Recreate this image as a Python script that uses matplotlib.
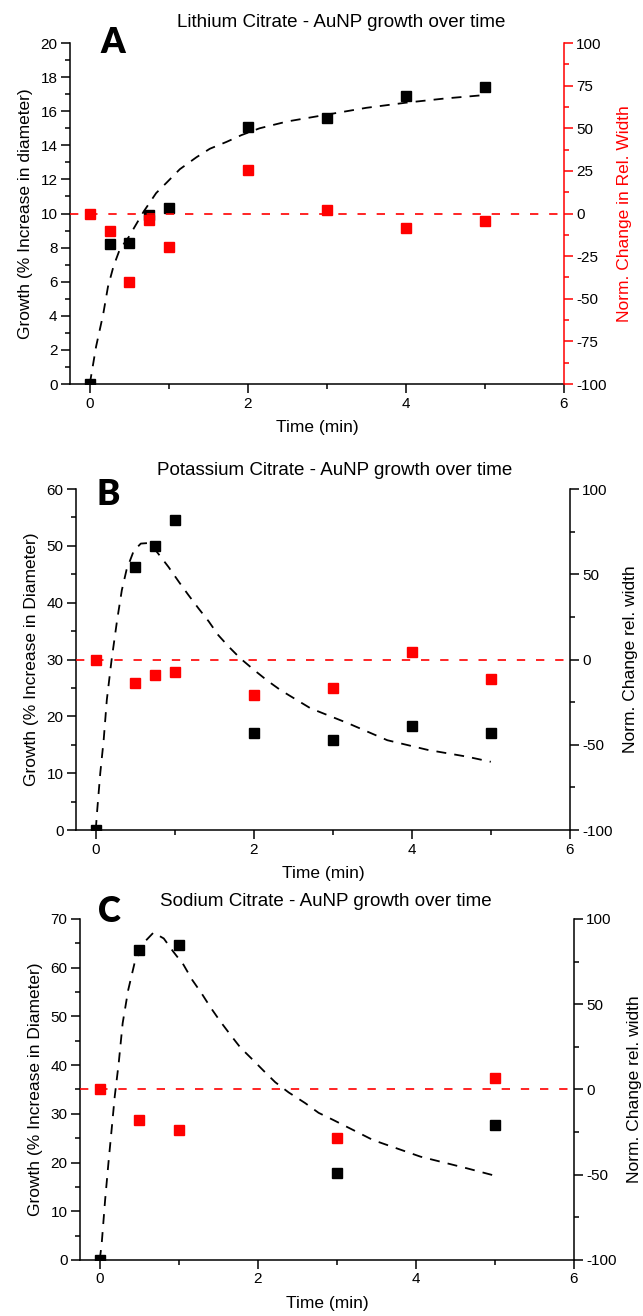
import matplotlib.pyplot as plt
from matplotlib.ticker import MultipleLocator

plt.rcParams['font.family'] = ['Liberation Sans', 'DejaVu Sans']
plt.rcParams['axes.unicode_minus'] = False

RED = '#ff0000'

# Panel A - lithium citrate
time_a = [0, 0.25, 0.5, 0.75, 1, 2, 3, 4, 5]
growth_a = [0, 8.2, 8.3, 9.9, 10.3, 15.1, 15.6, 16.9, 17.4]
width_a = [0, -10, -40, -4, -19.5, 25.7, 2, -8.3, -4.3]
fit_a_x = [0, 0.08, 0.17, 0.23, 0.3, 0.38, 0.49, 0.68, 0.84, 0.97, 1.14, 1.35,
           1.52, 1.73, 1.92, 2.15, 2.5, 3.0, 3.5, 4.0, 4.5, 5.0]
fit_a_y = [0, 2.2, 4.1, 5.7, 6.9, 7.9, 8.6, 10.1, 11.2, 11.8, 12.6, 13.3,
           13.8, 14.2, 14.6, 15.0, 15.4, 15.8, 16.2, 16.5, 16.75, 16.95]

# Panel B - potassium citrate
time_b = [0, 0.5, 0.75, 1, 2, 3, 4, 5]
growth_b = [0, 46.3, 50.0, 54.6, 17.1, 15.8, 18.3, 17.0]
width_b = [0, -13.8, -8.9, -7.5, -20.8, -16.9, 4.2, -11.6]
fit_b_x = [0, 0.015, 0.057, 0.1, 0.14, 0.2, 0.27, 0.33, 0.39, 0.48, 0.57, 0.67,
           0.77, 0.92, 1.05, 1.17, 1.30, 1.43, 1.55, 1.68, 1.83, 2.0, 2.17,
           2.34, 2.72, 3.19, 3.69, 4.2, 4.7, 5.0]
fit_b_y = [0, 2.9, 10.0, 15.8, 22.9, 29.9, 36.9, 42.2, 45.8, 49.1, 50.4, 50.5,
           49.0, 46.3, 43.7, 41.4, 39.0, 36.7, 34.3, 32.3, 30.2, 28.2, 26.3,
           24.6, 21.4, 18.8, 15.8, 14.1, 12.9, 12.0]

# Panel C - sodium citrate
time_c = [0, 0.5, 1, 3, 5]
growth_c = [0, 63.6, 64.6, 17.8, 27.8]
width_c = [0, -18.2, -23.6, -28.7, 6.8]
fit_c_x = [0, 0.025, 0.068, 0.11, 0.15, 0.19, 0.24, 0.29, 0.36, 0.44, 0.55, 0.68,
           0.81, 0.93, 1.06, 1.17, 1.29, 1.40, 1.52, 1.65, 1.78, 1.93, 2.07,
           2.22, 2.39, 2.6, 2.77, 2.96, 3.46, 4.06, 4.65, 5.0]
fit_c_y = [0, 3.4, 12.3, 19.9, 26.7, 33.6, 40.4, 48.6, 55.4, 60.9, 65.0, 67.2,
           66.0, 63.3, 60.6, 57.5, 54.7, 51.9, 49.1, 46.3, 43.6, 41.2, 38.9,
           36.5, 34.4, 32.2, 30.2, 28.7, 24.6, 21.2, 18.8, 17.3]

fig = plt.figure(figsize=(6.43, 13.16), dpi=100)


def draw_panel(rect, title, letter, t, growth, width, fit_x, fit_y,
               ymax, ymaj, ymin, left_label, right_label, right_color,
               title_pos, letter_pos, rmaj, rmin):
    ax = fig.add_axes(rect)
    ax.plot(fit_x, fit_y, color='black', lw=1.3, dashes=(5.5, 4.5))
    ax.plot(t, growth, 's', color='black', ms=6.5, zorder=3)
    ax.set_xlim(-0.25, 6)
    ax.set_ylim(0, ymax)
    ax.xaxis.set_major_locator(MultipleLocator(2))
    ax.xaxis.set_minor_locator(MultipleLocator(1))
    ax.yaxis.set_major_locator(MultipleLocator(ymaj))
    ax.yaxis.set_minor_locator(MultipleLocator(ymin))
    ax.spines['top'].set_visible(False)
    ax.spines['right'].set_visible(False)
    for s in ('left', 'bottom'):
        ax.spines[s].set_linewidth(1.1)
    ax.tick_params(which='both', direction='out', width=1.1)
    ax.tick_params(which='major', length=6.5, labelsize=11, pad=2.5)
    ax.tick_params(which='minor', length=3.5)
    ax.set_xlabel('Time (min)', fontsize=12.5)
    ax.xaxis.set_label_coords(0.5, -0.105)
    ax.set_ylabel(left_label, fontsize=12.5)
    ax.yaxis.set_label_coords(-0.075, 0.5)
    ax.text(title_pos[0], title_pos[1], title, transform=ax.transAxes,
            ha='center', va='baseline', fontsize=13.5)
    ax.text(letter_pos[0], letter_pos[1], letter, transform=ax.transAxes,
            ha='left', va='baseline', fontsize=25, fontweight='heavy',
            family=['Lato', 'DejaVu Sans'])

    ax2 = ax.twinx()
    ax2.axhline(0, color=RED, lw=1.2, dashes=(5, 6.5))
    ax2.plot(t, width, 's', color=RED, ms=6.5, zorder=3)
    ax2.set_ylim(-100, 100)
    ax2.yaxis.set_major_locator(MultipleLocator(rmaj))
    ax2.yaxis.set_minor_locator(MultipleLocator(rmin))
    for s in ('top', 'left', 'bottom'):
        ax2.spines[s].set_visible(False)
    ax2.spines['right'].set_color(right_color)
    ax2.spines['right'].set_linewidth(1.1)
    ax2.tick_params(which='both', direction='out', width=1.1,
                    color=right_color, labelcolor='black')
    ax2.tick_params(which='major', length=6.5, labelsize=11, pad=2.5)
    ax2.tick_params(which='minor', length=3.5)
    ax2.set_ylabel(right_label, fontsize=12.5, color=right_color)
    ax2.yaxis.set_label_coords(1.108, 0.5)


draw_panel([0.1089, 0.7082, 0.768, 0.2591], 'Lithium Citrate - AuNP growth over time', 'A',
           time_a, growth_a, width_a, fit_a_x, fit_a_y, 20, 2, 1,
           'Growth (% Increase in diameter)', 'Norm. Change in Rel. Width', RED,
           (0.55, 1.047), (0.061, 0.971), 25, 12.5)

draw_panel([0.1182, 0.3693, 0.768, 0.2591], 'Potassium Citrate - AuNP growth over time', 'B',
           time_b, growth_b, width_b, fit_b_x, fit_b_y, 60, 10, 5,
           'Growth (% Increase in Diameter)', 'Norm. Change rel. width', 'black',
           (0.524, 1.041), (0.0425, 0.953), 50, 25)

draw_panel([0.1244, 0.0426, 0.768, 0.2591], 'Sodium Citrate - AuNP growth over time', 'C',
           time_c, growth_c, width_c, fit_c_x, fit_c_y, 70, 10, 5,
           'Growth (% Increase in Diameter)', 'Norm. Change rel. width', 'black',
           (0.498, 1.038), (0.036, 0.991), 50, 25)

fig.savefig('out.png', dpi=100)
